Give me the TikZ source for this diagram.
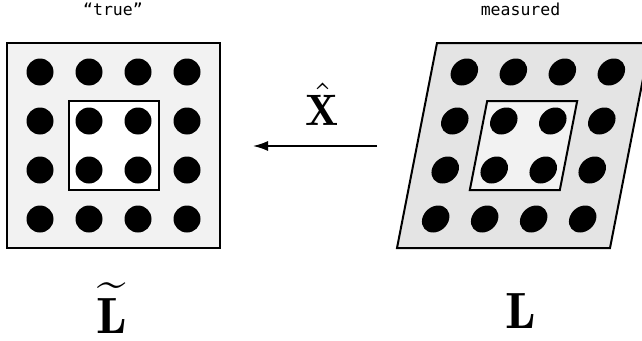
\documentclass[tikz,border=0pt]{standalone}
\usepackage{amsmath}
\usepackage{fontspec}
\newfontfamily\labelfont{DejaVu Sans Mono}
\usetikzlibrary{arrows.meta}
\definecolor{panelgray}{gray}{0.95}
\definecolor{shiftgray}{gray}{0.895}
\tikzset{
  panel/.style={line width=2pt},
  caption/.style={font=\labelfont\fontsize{16.5}{18}\selectfont, anchor=base},
  symbol/.style={anchor=base, inner sep=0pt},
}

\begin{document}
\begin{tikzpicture}[x=1pt,y=-1pt]
\path[use as bounding box] (0,0) rectangle (642,340);
\clip (0,0) rectangle (642,340);
% true lattice
\begin{scope}[shift={(113.5,145.5)}]
\draw[panel,fill=panelgray] (-106.5,-102.5) rectangle (106.5,102.5);
\draw[panel,fill=white] (-45,-44.5) rectangle (45,44.5);
\foreach \i in {-73.5,-24.5,24.5,73.5}
  \foreach \j in {-73.5,-24.5,24.5,73.5}
    \fill (\i,\j) circle[radius=13.5pt];
\end{scope}
% measured lattice, slanted
\begin{scope}[shift={(523.5,145.5)}, xslant=0.195]
\draw[panel,fill=shiftgray] (-106.5,-102.5) rectangle (106.5,102.5);
\draw[panel,fill=panelgray] (-45,-44.5) rectangle (45,44.5);
\foreach \i in {-73.5,-24.5,24.5,73.5}
  \foreach \j in {-73.5,-24.5,24.5,73.5}
    \fill (\i,\j) circle[radius=13.5pt];
\end{scope}
\node[caption] (truelabel) at (113,16) {“true”};
\node[caption] (measlabel) at (520.5,16) {measured};
\node[symbol, scale=4.4] (xhat) at (322.5,125) {$\hat{\mathbf{X}}$};
\coordinate (arrowstart) at (377,146);
\coordinate (arrowend) at (253,146);
\draw[line width=1.5pt, -{Latex[length=15pt,width=10pt]}] (arrowstart) -- (arrowend); % estimated map
\node[symbol, scale=5.1] (ltrue) at (112,333) {$\widetilde{\mathbf{L}}$};
\node[symbol, scale=5.1] (lmeas) at (521,328) {$\mathbf{L}$};
\end{tikzpicture}
\end{document}
